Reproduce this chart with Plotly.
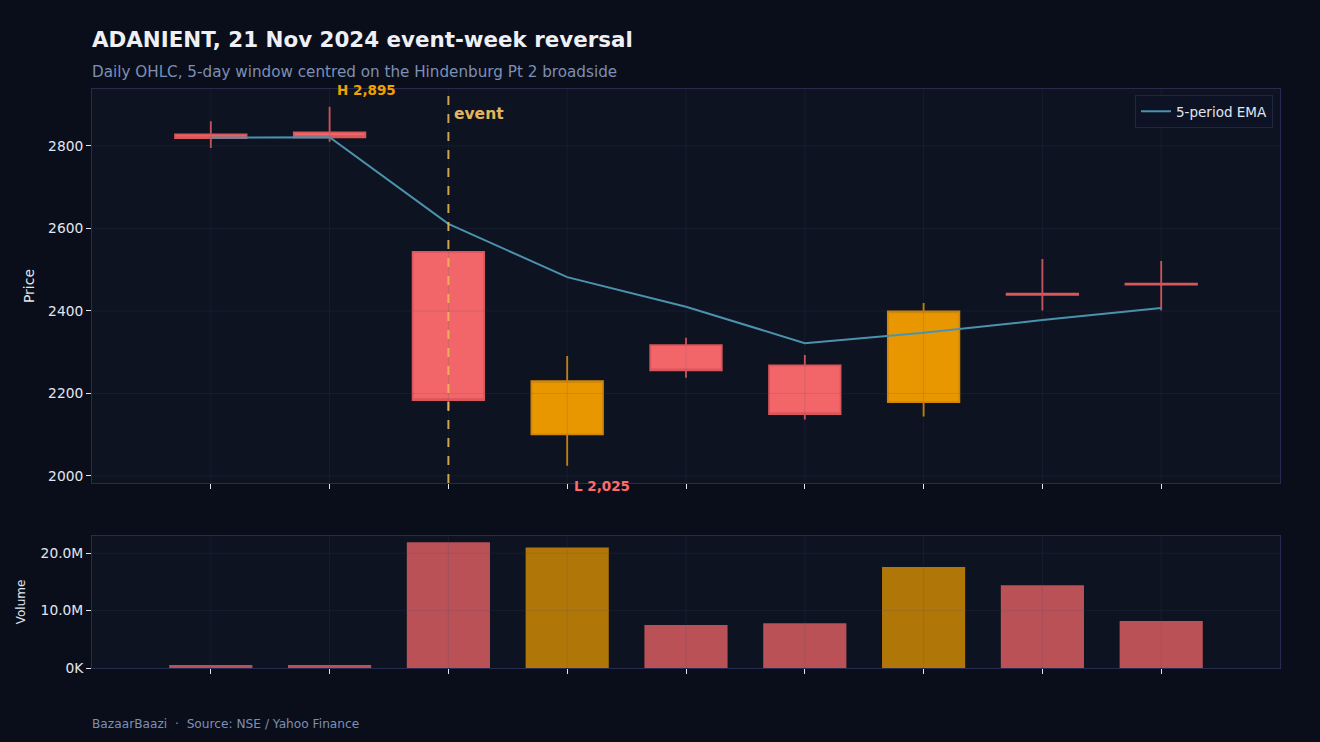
import plotly.graph_objects as go
from plotly.subplots import make_subplots

# ---- data ----
dates = ["18 Nov", "19 Nov", "21 Nov", "22 Nov", "25 Nov", "26 Nov", "27 Nov", "28 Nov", "29 Nov"]
open_ = [2828, 2833, 2543, 2101, 2317, 2268, 2179, 2442, 2466]
high = [2860, 2895, 2545, 2291, 2335, 2293, 2419, 2526, 2521]
low = [2795, 2810, 2160, 2025, 2238, 2137, 2144, 2401, 2401]
close = [2819, 2821, 2184, 2230, 2256, 2150, 2399, 2439, 2464]
ema5 = [2820, 2821, 2611, 2482, 2410, 2322, 2347, 2378, 2407]
volume = [0.52e6, 0.52e6, 21.9e6, 21.0e6, 7.5e6, 7.8e6, 17.6e6, 14.4e6, 8.2e6]
event_date = "21 Nov"
price_ticks = [2000, 2200, 2400, 2600, 2800]
vol_ticks = [0, 10e6, 20e6]
vol_ticktext = ["0K", "10.0M", "20.0M"]

# ---- styling ----
FONT = "DejaVu Sans"
PAPER = "#0a0e1a"
PLOT = "#0e1322"
UP = "#e89700"
DOWN = "#f26669"
UP_LINE = "#cf870a"
DOWN_LINE = "#d9565b"
GRID = "rgba(70,78,115,0.16)"
SPINE = "#262b4f"
TICKC = "#e2e5ee"

fig = make_subplots(rows=2, cols=1, shared_xaxes=True)

fig.add_trace(go.Candlestick(
    x=dates, open=open_, high=high, low=low, close=close,
    increasing=dict(fillcolor=UP, line=dict(color=UP_LINE, width=1.8)),
    decreasing=dict(fillcolor=DOWN, line=dict(color=DOWN_LINE, width=1.8)),
    showlegend=False, name="OHLC"), row=1, col=1)

fig.add_trace(go.Scatter(
    x=dates, y=ema5, mode="lines", name="5-period EMA",
    line=dict(color="#4b93ad", width=2)), row=1, col=1)

vol_colors = [UP if c >= o else DOWN for o, c in zip(open_, close)]
fig.add_trace(go.Bar(
    x=dates, y=volume, marker=dict(color=vol_colors, line=dict(width=0)),
    opacity=0.75, showlegend=False, name="Volume"), row=2, col=1)

# gridlines drawn above marks (as in the reference)
for v in price_ticks:
    fig.add_shape(type="line", xref="x domain", yref="y", x0=0, x1=1, y0=v, y1=v,
                  line=dict(color=GRID, width=1), layer="above")
for v in vol_ticks[1:]:
    fig.add_shape(type="line", xref="x2 domain", yref="y2", x0=0, x1=1, y0=v, y1=v,
                  line=dict(color=GRID, width=1), layer="above")
for d in dates:
    fig.add_shape(type="line", xref="x", yref="y domain", x0=d, x1=d, y0=0, y1=1,
                  line=dict(color=GRID, width=1), layer="above")
    fig.add_shape(type="line", xref="x2", yref="y2 domain", x0=d, x1=d, y0=0, y1=1,
                  line=dict(color=GRID, width=1), layer="above")

# event line
fig.add_shape(type="line", xref="x", yref="y domain", x0=event_date, x1=event_date, y0=0, y1=1,
              line=dict(color="rgba(240,188,90,0.85)", width=2, dash="dash"), layer="above")
fig.add_annotation(xref="x", yref="y domain", x=event_date, y=1, text="<b>event</b>",
                   showarrow=False, xanchor="left", yanchor="top", xshift=4, yshift=-14,
                   font=dict(family=FONT, size=15.5, color="#e3b55c"))

hi_i = high.index(max(high))
lo_i = low.index(min(low))
fig.add_annotation(xref="x", yref="y", x=dates[hi_i], y=high[hi_i],
                   text=f"<b>H {high[hi_i]:,}</b>", showarrow=False,
                   xanchor="left", yanchor="bottom", xshift=5, yshift=7,
                   font=dict(family=FONT, size=13.5, color="#f0a000"))
fig.add_annotation(xref="x", yref="y", x=dates[lo_i], y=low[lo_i],
                   text=f"<b>L {low[lo_i]:,}</b>", showarrow=False,
                   xanchor="left", yanchor="top", xshift=5, yshift=-10,
                   font=dict(family=FONT, size=13.5, color="#ff6b6b"))

# subtitle and footer
fig.add_annotation(xref="paper", yref="paper", x=0, y=(668 - 72) / 579,
                   text="Daily OHLC, 5-day window centred on the Hindenburg Pt 2 broadside",
                   showarrow=False, xanchor="left", yanchor="middle", xshift=-2,
                   font=dict(family=FONT, size=15.2, color="#7d8fb5"))
fig.add_annotation(xref="paper", yref="paper", x=0, y=(668 - 724) / 579,
                   text="BazaarBaazi  ·  Source: NSE / Yahoo Finance",
                   showarrow=False, xanchor="left", yanchor="middle", xshift=-2,
                   font=dict(family=FONT, size=12.2, color="#7d8fb5"))

axis_common = dict(showgrid=False, zeroline=False, showline=True, linecolor=SPINE,
                   linewidth=1, mirror=True, ticks="outside", ticklen=5, tickwidth=1,
                   tickcolor=TICKC, tickfont=dict(family=FONT, size=13.8, color=TICKC))

fig.update_xaxes(type="category", range=[-1, len(dates)], showticklabels=False,
                 rangeslider=dict(visible=False), **axis_common)
fig.update_yaxes(**axis_common)
fig.update_layout(
    xaxis=dict(rangeslider=dict(visible=False)),
    yaxis=dict(domain=[(668 - 483) / 579, 1], range=[1983, 2938], tickvals=price_ticks,
               title=dict(text="Price", font=dict(family=FONT, size=14, color=TICKC), standoff=10)),
    yaxis2=dict(domain=[0, (668 - 536) / 579], range=[0, 23e6], tickvals=vol_ticks,
                ticktext=vol_ticktext,
                title=dict(text="Volume", font=dict(family=FONT, size=12, color=TICKC), standoff=12)),
    width=1320, height=742,
    margin=dict(l=92, r=40, t=89, b=74),
    paper_bgcolor=PAPER, plot_bgcolor=PLOT,
    bargap=0.3,
    boxgap=0.14,
    title=dict(text="ADANIENT, 21 Nov 2024 event-week reversal", x=92 / 1320, xanchor="left",
               xref="container", y=1 - 40 / 742, yref="container", yanchor="middle",
               font=dict(family=FONT, size=21.4, color="#eef0f6", weight="bold")),
    legend=dict(x=1 - 7 / 1188, y=1 - 6 / 579, xanchor="right", yanchor="top",
                bgcolor="#0d1324", bordercolor="#1f2642", borderwidth=1,
                font=dict(family=FONT, size=13.5, color="#e2e5ee")),
    font=dict(family=FONT, color=TICKC),
    showlegend=True,
)

fig.write_html("out.html")
